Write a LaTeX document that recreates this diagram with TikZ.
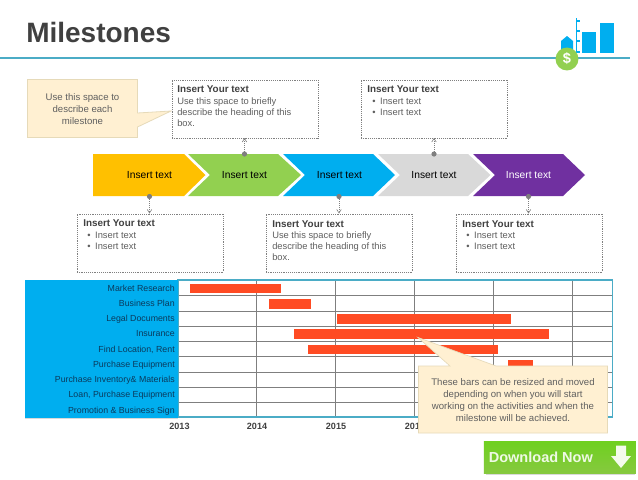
\documentclass[tikz,border=0pt]{standalone}
\usepackage{fontspec}
\setmainfont{Liberation Sans}
\usetikzlibrary{arrows.meta,shadows}
\definecolor{tealline}{HTML}{4BACC6}
\definecolor{skyb}{HTML}{00AEEF}
\definecolor{barred}{HTML}{FF4B23}
\definecolor{notefill}{HTML}{FFF0D2}
\definecolor{noteline}{HTML}{E6DAB9}
\definecolor{gridg}{HTML}{7F7F7F}
\definecolor{headc}{HTML}{404040}
\definecolor{bodyc}{HTML}{5F5F5F}
\definecolor{dltop}{HTML}{6FD01F}
\definecolor{dlbot}{HTML}{86C93F}
\definecolor{chevy}{HTML}{FFC000}
\definecolor{chevg}{HTML}{92D050}
\definecolor{chevd}{HTML}{D9D9D9}
\definecolor{chevp}{HTML}{7030A0}
\definecolor{rowtxt}{HTML}{0B3A5C}
\tikzset{
  x=0.75pt,y=-0.75pt,
  chevtext/.style={font=\fontsize{7.7}{9}\selectfont,text=black},
  dotted box/.style={draw=black!50,densely dotted,line width=0.4pt,fill=white,anchor=north west,inner sep=0pt,minimum width=#1,minimum height=43.5pt},
  headtxt/.style={anchor=north west,inner sep=0pt,font=\fontsize{7.4}{8.25}\bfseries\selectfont,text=headc},
  bodytxt/.style={anchor=north west,inner sep=0pt,align=left,font=\fontsize{7}{8.25}\selectfont,text=bodyc},
  conn/.style={densely dotted,draw=black!50,line width=0.45pt,-{Straight Barb[length=2.6pt,width=3.4pt]}},
  mdot/.style={circle,fill=gridg,inner sep=0pt,minimum size=3.9pt},
  rowlab/.style={anchor=east,inner sep=0pt,font=\fontsize{6.6}{8}\selectfont,text=rowtxt},
  yearlab/.style={inner sep=0pt,font=\fontsize{6.8}{8}\bfseries\selectfont,text=headc},
  ganttbar/.style={fill=barred,draw=none},
  grid line/.style={draw=gridg,line width=0.7pt},
  note/.style={fill=notefill,draw=noteline,line width=0.6pt},
  notetxt/.style={align=center,inner sep=0pt,font=\fontsize{7.2}{9}\selectfont,text=bodyc},
}
\begin{document}
\begin{tikzpicture}
\useasboundingbox (0,0) rectangle (638,479);
\fill[white] (0,0) rectangle (638,479);
% title
\node[anchor=base west,inner sep=0pt,font=\fontsize{21}{24}\bfseries\selectfont,text=headc] (title) at (26,42.5) {Milestones};
\draw[tealline,line width=0.9pt] (0,58) -- (630,58);
% icon
\fill[skyb] (582.3,32) rectangle (596,53);
\fill[skyb] (600,23) rectangle (614,53);
\draw[skyb,line width=0.8pt] (576.5,18) -- (576.5,53);
\foreach \yy in {21,31,41,52}{\draw[skyb,line width=0.8pt] (576.5,\yy) -- (579.5,\yy);}
\fill[skyb] (561,41) -- (567,36) -- (573,41) -- (573,55) -- (561,55) -- cycle;
\node[circle,fill=chevg,minimum size=17.2pt,inner sep=0pt,text=white,font=\fontsize{11}{12}\bfseries\selectfont] (dollar) at (567,59) {\$};
% chevrons
\fill[chevy] (93,154) -- (184,154) -- (205.5,175) -- (184,196) -- (93,196) -- cycle;
\fill[chevg] (188,154) -- (278,154) -- (301,175) -- (278,196) -- (188,196) -- (210,175) -- cycle;
\fill[skyb] (283,154) -- (373,154) -- (395,175) -- (373,196) -- (283,196) -- (305,175) -- cycle;
\fill[chevd] (378,154) -- (468,154) -- (490.5,175) -- (468,196) -- (378,196) -- (400,175) -- cycle;
\fill[chevp] (473,154) -- (563,154) -- (585,175) -- (563,196) -- (473,196) -- (495,175) -- cycle;
\node[chevtext] (c1) at (149.5,175) {Insert text};
\node[chevtext] (c2) at (244.5,175) {Insert text};
\node[chevtext] (c3) at (339.5,175) {Insert text};
\node[chevtext] (c4) at (434,175) {Insert text};
\node[chevtext,text=white] (c5) at (528.5,175) {Insert text};
% note top-left
\draw[note] (27.5,79.5) -- (137.5,79.5) -- (137.5,113) -- (171,111) -- (137.5,127) -- (137.5,137.5) -- (27.5,137.5) -- cycle;
\node[notetxt] (n1) at (82.5,109.5) {Use this space to\\describe each\\milestone};
% text boxes
\node[dotted box=109.5pt] (bA) at (171.5,79.5) {};
\node[dotted box=110pt] (bB) at (360.5,79.5) {};
\node[dotted box=110pt] (bC) at (76.5,213.5) {};
\node[dotted box=110pt] (bD) at (265.5,213.5) {};
\node[dotted box=110pt] (bE) at (455.5,213.5) {};
\node[headtxt] (hA) at (177,85) {Insert Your text};
\node[bodytxt] (tA) at (177,97.5) {Use this space to briefly\\describe the heading of this\\box.};
\node[headtxt] (hB) at (367,85) {Insert Your text};
\node[bodytxt] (tB) at (372,97.5) {•\hspace{3.5pt}Insert text\\•\hspace{3.5pt}Insert text};
\node[headtxt] (hC) at (83,219) {Insert Your text};
\node[bodytxt] (tC) at (87,231.5) {•\hspace{3.5pt}Insert text\\•\hspace{3.5pt}Insert text};
\node[headtxt] (hD) at (272,220) {Insert Your text};
\node[bodytxt] (tD) at (272,231.5) {Use this space to briefly\\describe the heading of this\\box.};
\node[headtxt] (hE) at (462,220) {Insert Your text};
\node[bodytxt] (tE) at (466,231.5) {•\hspace{3.5pt}Insert text\\•\hspace{3.5pt}Insert text};
% connectors
\node[mdot] (d1) at (149.5,196.5) {};
\node[mdot] (d2) at (244.5,154) {};
\node[mdot] (d3) at (339,196.5) {};
\node[mdot] (d4) at (434,154) {};
\node[mdot] (d5) at (528.5,196.5) {};
\draw[conn] (d1) -- (d1 |- bC.north);
\draw[conn] (d2) -- (d2 |- bA.south);
\draw[conn] (d3) -- (d3 |- bD.north);
\draw[conn] (d4) -- (d4 |- bB.south);
\draw[conn] (d5) -- (d5 |- bE.north);
% gantt
\foreach \yy in {295.3,311,326,341,356,372,387,402}{\draw[grid line] (178,\yy) -- (612.5,\yy);}
\foreach \xx in {256.3,335.3,414.5,493.5,572.7}{\draw[grid line] (\xx,280) -- (\xx,417);}
\draw[tealline,line width=0.8pt] (178,280) rectangle (612.5,417);
\fill[skyb] (25,280) rectangle (178,418);
\draw[black!15,line width=0.3pt] (25,418) -- (178,418);
\fill[ganttbar] (190,283.5) rectangle (281,293);
\fill[ganttbar] (269,299) rectangle (310.5,309);
\fill[ganttbar] (336.5,314) rectangle (510.5,324);
\fill[ganttbar] (294,329) rectangle (548.5,339);
\fill[ganttbar] (308,344.5) rectangle (497.5,354);
\fill[ganttbar] (508,359.5) rectangle (532.5,370);
\node[rowlab] (r1) at (175,288.5) {Market Research};
\node[rowlab] (r2) at (175,303.5) {Business Plan};
\node[rowlab] (r3) at (175,319) {Legal Documents};
\node[rowlab] (r4) at (175,334) {Insurance};
\node[rowlab] (r5) at (175,349.5) {Find Location, Rent};
\node[rowlab] (r6) at (175,365) {Purchase Equipment};
\node[rowlab] (r7) at (175,380) {Purchase Inventory\& Materials};
\node[rowlab] (r8) at (175,395) {Loan, Purchase Equipment};
\node[rowlab] (r9) at (175,411) {Promotion \& Business Sign};
\node[yearlab] (y1) at (179.5,426) {2013};
\node[yearlab] (y2) at (257,426) {2014};
\node[yearlab] (y3) at (336,426) {2015};
\node[yearlab] (y4) at (415,426) {2016};
% callout
\draw[note,line width=0.5pt] (418.5,366) -- (450,366) -- (418,337.5) -- (496,366) -- (607.5,366) -- (607.5,433) -- (418.5,433) -- cycle;
\node[notetxt] (n2) at (513,400.5) {These bars can be resized and moved\\depending on when you will start\\working on the activities and when the\\milestone will be achieved.};
% download
\fill[black,opacity=0.15] (486,450) rectangle (635,475);
\node[anchor=north west,inner sep=0pt,minimum width=114pt,minimum height=24pt,top color=dltop,bottom color=dlbot,draw=none] (dl) at (483.5,441) {};
\node[anchor=west,inner sep=0pt,font=\fontsize{10.9}{13}\bfseries\selectfont,text=white!88!dltop] (dltxt) at (488.5,457) {Download Now};
\fill[white!92!dltop] (616,445.5) -- (626,445.5) -- (626,456) -- (631,456) -- (621,468) -- (611,456) -- (616,456) -- cycle;
\end{tikzpicture}
\end{document}
